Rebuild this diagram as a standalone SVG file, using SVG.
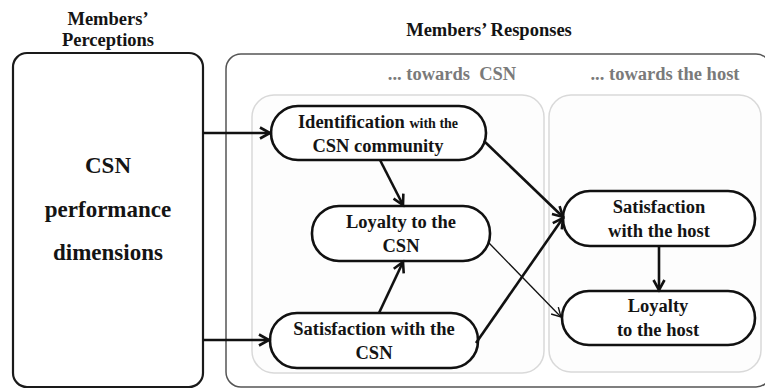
<svg xmlns="http://www.w3.org/2000/svg" width="765" height="389" viewBox="0 0 765 389">
<style>
text{font-family:"Liberation Serif","Times New Roman",serif;font-weight:bold;fill:#141414;text-anchor:middle}
.hd{font-size:18.5px}
.gl{font-size:18.5px;fill:#7a7a7a}
.nt{font-size:18.5px}
.sm{font-size:14px}
.big{font-size:23px}
.node{fill:#fff;stroke:#111;stroke-width:2.6}
.edge{fill:none;stroke:#111;stroke-width:2.6}
.thin{fill:none;stroke:#111;stroke-width:1.3}
</style>
<defs>
<marker id="arr" markerUnits="userSpaceOnUse" markerWidth="16" markerHeight="16" viewBox="0 0 16 16" refX="13" refY="8" orient="auto">
<path d="M3,2.5 L13,8 L3,13.5" fill="none" stroke="#111" stroke-width="2.6" stroke-linejoin="miter"/>
</marker>
<marker id="arrT" markerUnits="userSpaceOnUse" markerWidth="16" markerHeight="16" viewBox="0 0 16 16" refX="13" refY="8" orient="auto">
<path d="M4,3 L13,8 L4,13" fill="none" stroke="#111" stroke-width="1.4"/>
</marker>
</defs>
<rect width="765" height="389" fill="#fff"/>
<g id="headings">
<text class="hd" x="108" y="25">Members’</text>
<text class="hd" x="108" y="46">Perceptions</text>
<text class="hd" x="489" y="36">Members’ Responses</text>
</g>
<g id="responses-frame">
<rect x="226" y="54" width="545" height="333" rx="15" fill="#fff" stroke="#555" stroke-width="1.5"/>
</g>
<g id="group-csn">
<rect x="252" y="95" width="292" height="278" rx="22" fill="#fdfdfd" stroke="#d9d9d9" stroke-width="1.5"/>
<text class="gl" x="452" y="80" xml:space="preserve">... towards  CSN</text>
</g>
<g id="group-host">
<rect x="549" y="95" width="212" height="277" rx="22" fill="#fdfdfd" stroke="#d9d9d9" stroke-width="1.5"/>
<text class="gl" x="665" y="80">... towards the host</text>
</g>
<g id="perceptions">
<rect x="13" y="53" width="190" height="334" rx="14" fill="#fff" stroke="#1a1a1a" stroke-width="2.2"/>
<text class="big" x="108" y="173">CSN</text>
<text class="big" x="108" y="217">performance</text>
<text class="big" x="108" y="260">dimensions</text>
</g>
<g id="identification">
<rect class="node" x="271" y="106" width="215" height="54" rx="27"/>
<text class="nt" x="378" y="127.5">Identification <tspan class="sm">with  the</tspan></text>
<text class="nt" x="378" y="151.5">CSN community</text>
</g>
<g id="loyalty-csn">
<rect class="node" x="312" y="206" width="178" height="55" rx="27"/>
<text class="nt" x="401" y="228">Loyalty to the</text>
<text class="nt" x="401" y="252">CSN</text>
</g>
<g id="satisfaction-csn">
<rect class="node" x="270" y="313" width="208" height="55" rx="27"/>
<text class="nt" x="374" y="335">Satisfaction with the</text>
<text class="nt" x="374" y="359">CSN</text>
</g>
<g id="satisfaction-host">
<rect class="node" x="563" y="191" width="192" height="55" rx="27"/>
<text class="nt" x="659" y="213">Satisfaction</text>
<text class="nt" x="659" y="237">with the host</text>
</g>
<g id="loyalty-host">
<rect class="node" x="562" y="291" width="193" height="54" rx="27"/>
<text class="nt" x="658" y="312">Loyalty</text>
<text class="nt" x="658" y="336">to the host</text>
</g>
<g id="connectors">
<line class="edge" x1="203" y1="133" x2="270" y2="133" marker-end="url(#arr)"/>
<line class="edge" x1="203" y1="340" x2="269" y2="340" marker-end="url(#arr)"/>
<line class="edge" x1="380" y1="160" x2="403" y2="205" marker-end="url(#arr)"/>
<line class="edge" x1="379" y1="313" x2="403" y2="262" marker-end="url(#arr)"/>
<line class="edge" x1="484" y1="141" x2="563" y2="217" marker-end="url(#arr)"/>
<line class="edge" x1="476" y1="343" x2="563" y2="218" marker-end="url(#arr)"/>
<line class="thin" x1="489" y1="243" x2="561" y2="317" marker-end="url(#arrT)"/>
<line class="edge" x1="659" y1="246" x2="659" y2="290" marker-end="url(#arr)"/>
</g>
</svg>
